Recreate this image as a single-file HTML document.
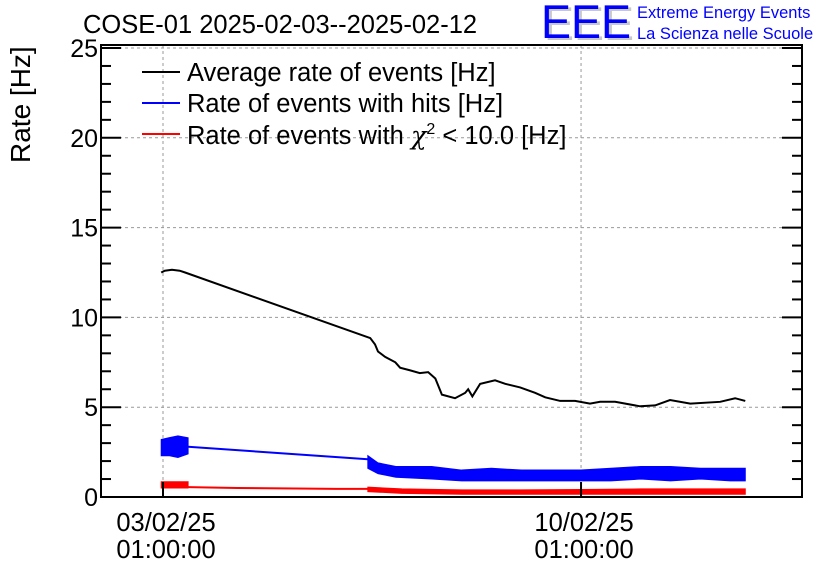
<!DOCTYPE html>
<html><head><meta charset="utf-8"><style>
html,body{margin:0;padding:0;background:#fff;}
svg{display:block;font-family:"Liberation Sans",sans-serif;}
</style></head><body>
<svg id="chart" width="836" height="572" viewBox="0 0 836 572">
<text x="83" y="33" font-size="25.5">COSE-01 2025-02-03--2025-02-12</text>
<g>
<text x="544" y="40" font-size="47" fill="#c8c8c8" textLength="90" lengthAdjust="spacingAndGlyphs">EEE</text>
<text x="541" y="38" font-size="47" fill="#0000ff" textLength="90" lengthAdjust="spacingAndGlyphs">EEE</text>
<text x="637" y="18" font-size="16.5" fill="#0000ff">Extreme Energy Events</text>
<text x="637" y="39" font-size="16.5" fill="#0000ff">La Scienza nelle Scuole</text>
</g>
<text transform="translate(30,163) rotate(-90)" x="0" y="0" text-anchor="start" font-size="28" fill="#000">Rate [Hz]</text>
<g id="grid"></g>
<g id="series"></g>
<g id="axes"></g>
<g>
<g><line x1="142" y1="72" x2="180" y2="72" stroke="#000" stroke-width="2"/><text x="187" y="81" font-size="25.5">Average rate of events [Hz]</text></g>
<g><line x1="142" y1="103" x2="180" y2="103" stroke="#0000ff" stroke-width="2"/><text x="187" y="112" font-size="25.5">Rate of events with hits [Hz]</text></g>
<g><line x1="142" y1="134" x2="180" y2="134" stroke="#ff0000" stroke-width="2"/><text x="187" y="144" font-size="25.5">Rate of events with <tspan font-family="'DejaVu Serif',serif" font-style="italic">χ</tspan><tspan font-size="16" dy="-10">2</tspan><tspan dy="10"> &lt; 10.0 [Hz]</tspan></text></g>
</g>
</svg>
<script>
// data (days since 03/02/25 01:00:00)
const xTickDays = [0, 7];
const xTickLabels1 = ["03/02/25", "10/02/25"];
const xTickLabels2 = ["01:00:00", "01:00:00"];
const yTicks = [0, 5, 10, 15, 20, 25];
const avgDays = [-0.03,0.03,0.15,0.28,0.37,3.47,3.55,3.6,3.72,3.89,3.97,4.14,4.3,4.44,4.56,4.67,4.89,5.06,5.11,5.18,5.31,5.56,5.73,5.98,6.23,6.4,6.65,6.9,7.15,7.32,7.57,7.99,8.24,8.49,8.83,9.33,9.58,9.75];
const avgVals = [12.5,12.6,12.65,12.6,12.5,8.85,8.5,8.1,7.8,7.5,7.2,7.05,6.9,6.95,6.6,5.7,5.5,5.8,6.0,5.6,6.3,6.5,6.3,6.1,5.8,5.55,5.35,5.35,5.2,5.3,5.3,5.05,5.1,5.4,5.2,5.3,5.5,5.35];
const hitsBand1Days = [-0.03,0.1,0.25,0.42];
const hitsBand1Low = [2.3,2.3,2.2,2.4];
const hitsBand1High = [3.2,3.3,3.4,3.3];
const hitsLineDays = [0.42, 3.43];
const hitsLineVals = [2.8, 2.1];
const hitsBand2Days = [3.43,3.6,3.9,4.5,5.0,5.5,6.0,6.5,7.0,7.5,8.0,8.5,9.0,9.5,9.75];
const hitsBand2Low = [1.6,1.3,1.1,1.0,0.9,0.9,0.9,0.9,0.9,0.9,1.0,0.9,1.0,0.9,0.9];
const hitsBand2High = [2.3,1.9,1.7,1.7,1.5,1.6,1.5,1.5,1.5,1.6,1.7,1.7,1.6,1.6,1.6];
const chiBand1Days = [-0.03,0.42];
const chiBand1Low = [0.5,0.5];
const chiBand1High = [0.85,0.85];
const chiLineDays = [0.42,1.25,2.9,3.43];
const chiLineVals = [0.55,0.5,0.45,0.45];
const chiBand2Days = [3.43,4.0,5.0,6.0,7.0,8.0,9.0,9.75];
const chiBand2Low = [0.3,0.2,0.15,0.15,0.15,0.15,0.15,0.15];
const chiBand2High = [0.55,0.45,0.4,0.4,0.42,0.45,0.45,0.45];

const L=101,R=802,T=45,B=497;
const X=d=>163+d*59.72;
const Y=v=>B-(v/25)*(B-48);
const NS="http://www.w3.org/2000/svg";
function mk(tag,attrs,parent){const e=document.createElementNS(NS,tag);for(const k in attrs)e.setAttribute(k,attrs[k]);parent.appendChild(e);return e;}
const grid=document.getElementById('grid'),ser=document.getElementById('series'),ax=document.getElementById('axes');
yTicks.forEach(v=>{if(v===0)return;const l=mk('line',{x1:L,x2:R,y1:Y(v),y2:Y(v),stroke:'#999','stroke-dasharray':'3,3','stroke-width':1},grid);

});
xTickDays.forEach(d=>{const l=mk('line',{x1:X(d),x2:X(d),y1:T,y2:B,stroke:'#999','stroke-dasharray':'3,3','stroke-width':1},grid);

});
function band(days,lo,hi,color,name){let p=days.map((d,i)=>X(d)+','+Y(hi[i]));for(let i=days.length-1;i>=0;i--)p.push(X(days[i])+','+Y(lo[i]));
const e=mk('polygon',{points:p.join(' '),fill:color,stroke:color,'stroke-width':1},ser);

}
function line(days,vals,color,name){const e=mk('polyline',{points:days.map((d,i)=>X(d)+','+Y(vals[i])).join(' '),fill:'none',stroke:color,'stroke-width':2},ser);

}
band(hitsBand1Days,hitsBand1Low,hitsBand1High,'#0000ff','hits-band-1');
line(hitsLineDays,hitsLineVals,'#0000ff','hits-line');
band(hitsBand2Days,hitsBand2Low,hitsBand2High,'#0000ff','hits-band-2');
band(chiBand1Days,chiBand1Low,chiBand1High,'#ff0000','chi2-band-1');
line(chiLineDays,chiLineVals,'#ff0000','chi2-line');
band(chiBand2Days,chiBand2Low,chiBand2High,'#ff0000','chi2-band-2');
line(avgDays,avgVals,'#000','average-rate-line');
const fr=mk('rect',{x:L,y:T,width:R-L,height:B-T,fill:'none',stroke:'#000','stroke-width':2},ax);


for(let v=0;v<=25;v++){const len=(v%5===0)?20:10;
const a=mk('line',{x1:L,x2:L+len,y1:Y(v),y2:Y(v),stroke:'#000','stroke-width':2},ax);


const b=mk('line',{x1:R-len,x2:R,y1:Y(v),y2:Y(v),stroke:'#000','stroke-width':2},ax);

}
yTicks.forEach(v=>{const t=mk('text',{x:L-3,y:Y(v)+9,'text-anchor':'end','font-size':25},ax);t.textContent=v;

});
xTickDays.forEach((d,i)=>{const a=mk('line',{x1:X(d),x2:X(d),y1:B-15,y2:B,stroke:'#000','stroke-width':2},ax);


const t1=mk('text',{x:X(d)+3,y:531,'text-anchor':'middle','font-size':25.5},ax);t1.textContent=xTickLabels1[i];


const t2=mk('text',{x:X(d)+3,y:558,'text-anchor':'middle','font-size':25.5},ax);t2.textContent=xTickLabels2[i];

});
</script>
</body></html>
